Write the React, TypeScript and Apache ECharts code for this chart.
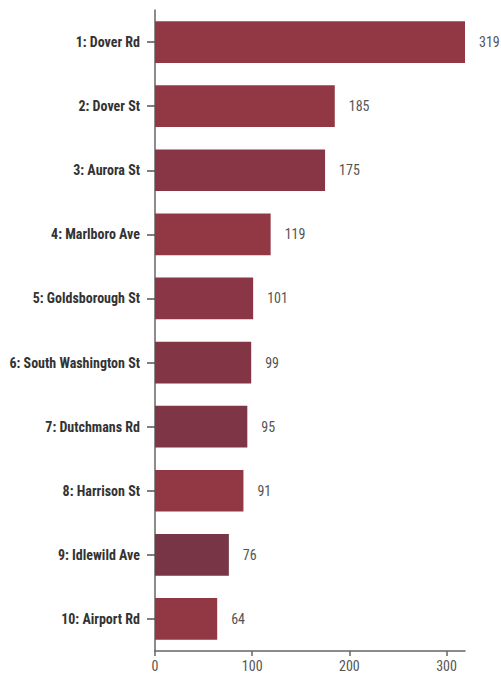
import React, { useEffect, useRef } from "react";
import * as echarts from "echarts";

const categories = [
  "1: Dover Rd",
  "2: Dover St",
  "3: Aurora St",
  "4: Marlboro Ave",
  "5: Goldsborough St",
  "6: South Washington St",
  "7: Dutchmans Rd",
  "8: Harrison St",
  "9: Idlewild Ave",
  "10: Airport Rd",
];
const values = [319, 185, 175, 119, 101, 99, 95, 91, 76, 64];
const xTicks = [0, 100, 200, 300];

const barColors = [
  "#923845",
  "#923845",
  "#883646",
  "#923845",
  "#8a3646",
  "#823545",
  "#7e3545",
  "#923845",
  "#773545",
  "#923845",
];

const FONT = "'Roboto Condensed', 'Liberation Sans Narrow', Roboto, sans-serif";

export default function App() {
  const ref = useRef<HTMLDivElement>(null);
  useEffect(() => {
    if (!ref.current) return;
    const chart = echarts.init(ref.current, null, { renderer: "svg" });
    chart.setOption({
      animation: false,
      backgroundColor: "#ffffff",
      grid: {
        left: 155,
        right: 36,
        top: 10,
        bottom: 26,
        containLabel: false,
        outerBoundsMode: "none",
      },
      xAxis: {
        type: "value",
        min: 0,
        max: 319,
        interval: 100,
        splitLine: { show: false },
        axisLine: { show: true, lineStyle: { color: "#666", width: 1.5 } },
        axisTick: {
          show: true,
          length: 5,
          lineStyle: { color: "#666", width: 1.5 },
          customValues: xTicks,
        },
        axisLabel: {
          color: "#555",
          fontFamily: FONT,
          fontSize: 14,
          margin: 8,
          customValues: xTicks,
        },
      },
      yAxis: {
        type: "category",
        inverse: true,
        data: categories,
        axisLine: { show: true, lineStyle: { color: "#666", width: 1.5 } },
        axisTick: {
          show: true,
          alignWithLabel: true,
          length: 8,
          lineStyle: { color: "#555", width: 1.5 },
        },
        axisLabel: {
          color: "#333",
          fontFamily: FONT,
          fontSize: 14,
          fontWeight: "bold",
          margin: 15,
        },
      },
      series: [
        {
          type: "bar",
          barCategoryGap: "35%",
          data: values.map((v, i) => ({
            value: v,
            itemStyle: { color: barColors[i] },
          })),
          label: {
            show: true,
            position: "right",
            distance: 14,
            color: "#555",
            fontFamily: FONT,
            fontSize: 14,
          },
        },
      ],
    });
    return () => chart.dispose();
  }, []);
  return (
    <div
      ref={ref}
      style={{ position: "absolute", left: 0, top: 0, width: 501, height: 677 }}
    />
  );
}
